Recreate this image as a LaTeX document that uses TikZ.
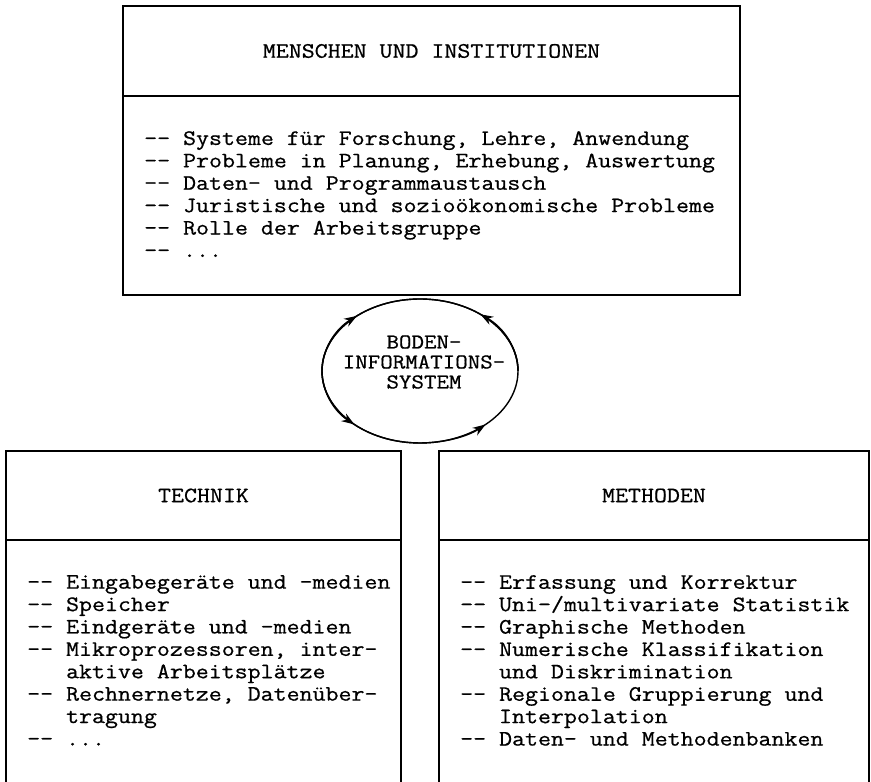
\documentclass[tikz,border=0pt]{standalone}
\usepackage{fontspec}
\setmonofont{Latin Modern Mono}[FakeStretch=1.145, FakeBold=0.7]
\usetikzlibrary{arrows.meta,positioning}
\newcommand{\wrapin}{\hspace*{38.88pt}}

\begin{document}
\begin{tikzpicture}[x=1pt, y=1pt,
  every node/.style={font=\ttfamily\fontsize{22}{22.4}\selectfont},
  head/.style={rectangle, draw=black, line width=1.6pt, inner sep=0pt, outer sep=0pt, minimum height=90pt},
  boxframe/.style={rectangle, draw=black, line width=1.6pt, inner sep=0pt, outer sep=0pt},
  itemlist/.style={inner sep=0pt, align=left},
  coretext/.style={align=center, inner sep=0pt, font=\ttfamily\fontsize{21.2}{20}\selectfont},
  ringarrow/.style={line width=1.4pt, -{Stealth[length=13pt, width=9pt]}}
]
\useasboundingbox (0,0) rectangle (871,782);

% Menschen und Institutionen
\node[head, minimum width=617pt] (mensch) at (431.5,731) {MENSCHEN UND INSTITUTIONEN};
\node[boxframe, minimum width=617pt, minimum height=199pt, below=0pt of mensch] (menschbox) {};
\node[itemlist, below right=35pt and 21pt of menschbox.north west] (menschlist) {%
  -- Systeme für Forschung, Lehre, Anwendung\\
  -- Probleme in Planung, Erhebung, Auswertung\\
  -- Daten- und Programmaustausch\\
  -- Juristische und sozioökonomische Probleme\\
  -- Rolle der Arbeitsgruppe\\
  -- ...};

% Technik
\node[head, minimum width=395pt, minimum height=89pt] (technik) at (203.5,286.5) {TECHNIK};
\node[boxframe, minimum width=395pt, minimum height=250pt, below=0pt of technik] (technikbox) {};
\node[itemlist, below right=35pt and 21pt of technikbox.north west] (techniklist) {%
  -- Eingabegeräte und -medien\\
  -- Speicher\\
  -- Eindgeräte und -medien\\
  -- Mikroprozessoren, inter-\\
  \wrapin aktive Arbeitsplätze\\
  -- Rechnernetze, Datenüber-\\
  \wrapin tragung\\
  -- ...};

% Methoden
\node[head, minimum width=430pt, minimum height=89pt] (methoden) at (654,286.5) {METHODEN};
\node[boxframe, minimum width=430pt, minimum height=250pt, below=0pt of methoden] (methodenbox) {};
\node[itemlist, below right=35pt and 21pt of methodenbox.north west] (methodenlist) {%
  -- Erfassung und Korrektur\\
  -- Uni-/multivariate Statistik\\
  -- Graphische Methoden\\
  -- Numerische Klassifikation\\
  \wrapin und Diskrimination\\
  -- Regionale Gruppierung und\\
  \wrapin Interpolation\\
  -- Daten- und Methodenbanken};

% Boden-Informations-System
\node[coretext] (system) at (424,420) {BODEN-\\INFORMATIONS-\\SYSTEM};
\coordinate (ring) at (420,411);
\draw[line width=1.4pt] (ring) ellipse[x radius=98, y radius=72];
\foreach \s/\e in {180/130, 0/52, 180/228, 0/312}
  \draw[ringarrow] (ring) ++(\s:98 and 72) arc[start angle=\s, end angle=\e, x radius=98, y radius=72];
\end{tikzpicture}
\end{document}
